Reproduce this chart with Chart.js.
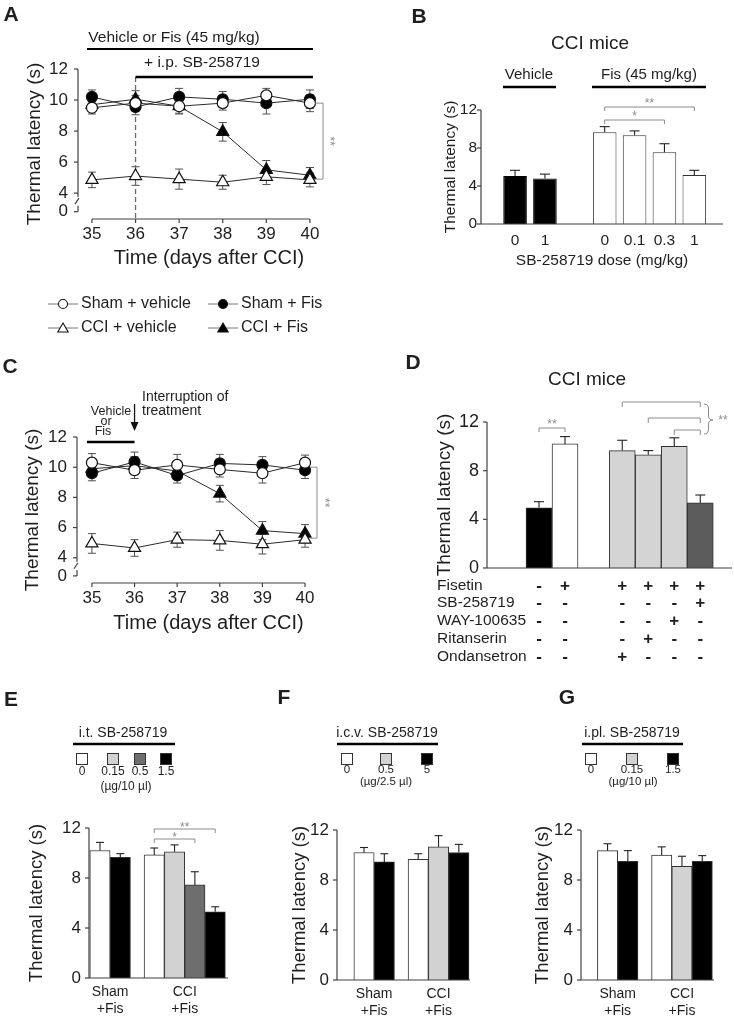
<!DOCTYPE html>
<html>
<head>
<meta charset="utf-8">
<title>Fisetin / SB-258719 - thermal latency in CCI mice</title>
<style>
  html, body { margin: 0; padding: 0; background: #fff; }
  #page { position: relative; width: 734px; height: 1017px; overflow: hidden; background: #fff; }
  #page canvas { position: absolute; }
</style>
</head>
<body>
<div id="page">
  <canvas id="chartA"></canvas>
  <canvas id="chartB"></canvas>
  <canvas id="chartC"></canvas>
  <canvas id="chartD"></canvas>
  <canvas id="chartE"></canvas>
  <canvas id="chartF"></canvas>
  <canvas id="chartG"></canvas>
</div>
<script src="https://cdn.jsdelivr.net/npm/chart.js"></script>
<script>
// ---- values: thermal latency (s), error = SEM ----
const DAYS = [35, 36, 37, 38, 39, 40];
const GROUPS = ['Sham + vehicle', 'Sham + Fis', 'CCI + vehicle', 'CCI + Fis'];

// A: i.p. SB-258719 added from day 36
const A_SHAM_VEH = [9.5, 9.8, 9.6, 9.8, 10.3, 9.8];
const A_SHAM_FIS = [10.2, 9.55, 10.2, 10.05, 9.8, 10.05];
const A_CCI_VEH  = [4.85, 5.1, 4.9, 4.7, 5.05, 4.85];
const A_CCI_FIS  = [9.7, 10.05, 9.6, 7.95, 5.5, 5.15];
const A_SHAM_VEH_ERR = [0.4, 0.5, 0.45, 0.45, 0.45, 0.55];
const A_SHAM_FIS_ERR = [0.45, 0.5, 0.55, 0.5, 0.7, 0.6];
const A_CCI_VEH_ERR  = [0.5, 0.6, 0.65, 0.45, 0.5, 0.45];
const A_CCI_FIS_ERR  = [0.45, 0.55, 0.5, 0.6, 0.6, 0.5];

// C: treatment interrupted after day 36
const C_SHAM_VEH = [10.3, 9.8, 10.15, 9.85, 9.6, 10.3];
const C_SHAM_FIS = [9.6, 10.35, 9.45, 10.25, 10.15, 9.8];
const C_CCI_VEH  = [4.95, 4.65, 5.2, 5.15, 4.9, 5.2];
const C_CCI_FIS  = [9.9, 10.1, 9.75, 8.25, 5.8, 5.6];
const C_SHAM_VEH_ERR = [0.6, 0.55, 0.7, 0.5, 0.65, 0.5];
const C_SHAM_FIS_ERR = [0.5, 0.65, 0.5, 0.6, 0.55, 0.55];
const C_CCI_VEH_ERR  = [0.65, 0.55, 0.5, 0.65, 0.65, 0.5];
const C_CCI_FIS_ERR  = [0.5, 0.6, 0.55, 0.55, 0.6, 0.6];

// B: CCI mice, SB-258719 dose (mg/kg)
const B_DOSE_LABELS = ['0', '1', '0', '0.1', '0.3', '1'];
const B_VEHICLE = [5.05, 4.8];
const B_VEHICLE_ERR = [0.6, 0.45];
const B_FIS = [9.65, 9.35, 7.55, 5.15];
const B_FIS_ERR = [0.6, 0.45, 0.9, 0.5];

// D: CCI mice, 5-HT receptor antagonists
const D_ROWS = ['Fisetin', 'SB-258719', 'WAY-100635', 'Ritanserin', 'Ondansetron'];
const D_VALUES = [4.95, 10.2, 9.65, 9.3, 10.0, 5.35];
const D_ERR = [0.5, 0.6, 0.85, 0.35, 0.7, 0.65];
const D_SIGNS = [
  ['-', '+', '+', '+', '+', '+'],
  ['-', '-', '-', '-', '-', '+'],
  ['-', '-', '-', '-', '+', '-'],
  ['-', '-', '-', '+', '-', '-'],
  ['-', '-', '+', '-', '-', '-'],
];

// E: i.t. SB-258719 (ug/10 ul)
const E_DOSES = ['0', '0.15', '0.5', '1.5'];
const E_SHAM = [10.2, 9.65];
const E_SHAM_ERR = [0.65, 0.3];
const E_SHAM_DOSE = [0, 3];
const E_CCI = [9.85, 10.1, 7.45, 5.3];
const E_CCI_ERR = [0.55, 0.55, 1.05, 0.4];
const E_CCI_DOSE = [0, 1, 2, 3];

// F: i.c.v. SB-258719 (ug/2.5 ul)
const F_DOSES = ['0', '0.5', '5'];
const F_SHAM = [10.2, 9.45];
const F_SHAM_ERR = [0.4, 0.65];
const F_SHAM_DOSE = [0, 2];
const F_CCI = [9.65, 10.65, 10.2];
const F_CCI_ERR = [0.45, 0.9, 0.65];
const F_CCI_DOSE = [0, 1, 2];

// G: i.pl. SB-258719 (ug/10 ul)
const G_DOSES = ['0', '0.15', '1.5'];
const G_SHAM = [10.35, 9.5];
const G_SHAM_ERR = [0.55, 0.85];
const G_SHAM_DOSE = [0, 2];
const G_CCI = [10.0, 9.1, 9.5];
const G_CCI_ERR = [0.65, 0.8, 0.45];
const G_CCI_DOSE = [0, 1, 2];

const GROUP_LABELS = [['Sham', '+Fis'], ['CCI', '+Fis']];

// ---- look ----
const FONT = '"Liberation Sans", Arial, Helvetica, sans-serif';
const INK = '#1e1e1e';
const AXIS = '#404040';
const SIG = '#8c8c8c';
Chart.defaults.font.family = FONT;
Chart.defaults.color = INK;

const POINT_STYLES = [
  { pointStyle: 'circle', radius: 5.5, fill: '#ffffff' },
  { pointStyle: 'circle', radius: 5.5, fill: '#000000' },
  { pointStyle: 'triangle', radius: 7, fill: '#ffffff' },
  { pointStyle: 'triangle', radius: 7, fill: '#000000' },
];
const E_COLORS = ['#ffffff', '#d2d2d2', '#6e6e6e', '#000000'];
const FG_COLORS = ['#ffffff', '#d2d2d2', '#000000'];
const D_COLORS = ['#000000', '#ffffff', '#d4d4d4', '#d4d4d4', '#d4d4d4', '#5c5c5c'];

// broken y axis: "0" sits just under the 4..12 range
const Y_LOW = 2.33, Y_ZERO = 2.8;

// canvas boxes and plot rectangles, page pixels
const GEO_A = { cx: 0, cy: 0, cw: 360, ch: 340, left: 78, top: 69, right: 340, bottom: 219, xBottom: 274, titleX: 35, titleSize: 19 };
const GEO_B = { cx: 370, cy: 0, cw: 364, ch: 280, left: 481, top: 110, right: 723, bottom: 224, xBottom: 274, titleX: 451, titleSize: 15.5 };
const GEO_C = { cx: 0, cy: 340, cw: 360, ch: 300, left: 77, top: 437, right: 340, bottom: 583, xBottom: 639, titleX: 33, titleSize: 19 };
const GEO_D = { cx: 370, cy: 340, cw: 364, ch: 340, left: 487, top: 422, right: 732, bottom: 568, xBottom: 568, titleX: 445, titleSize: 19 };
const GEO_E = { cx: 0, cy: 680, cw: 250, ch: 337, left: 89, top: 828, right: 228, bottom: 978, xBottom: 1017, titleX: 37, titleSize: 18.5 };
const GEO_F = { cx: 250, cy: 680, cw: 240, ch: 337, left: 337, top: 830, right: 470, bottom: 980, xBottom: 1017, titleX: 300, titleSize: 18.5 };
const GEO_G = { cx: 490, cy: 680, cw: 244, ch: 337, left: 581, top: 830, right: 714, bottom: 980, xBottom: 1017, titleX: 543, titleSize: 18.5 };

// bar slots: each group starts at its own offset, bars inside a group are one unit apart
function groupX(counts, starts) {
  const xs = [];
  counts.forEach((n, g) => { for (let i = 0; i < n; i++) xs.push(starts[g] + i); });
  return xs;
}
const B_X = groupX([2, 4], [0, 3]);
const D_X = groupX([2, 4], [0, 3.2]);
const E_X = groupX([2, 4], [0, 2.67]);
const F_X = groupX([2, 3], [0, 2.67]);
const G_X = groupX([2, 3], [0, 2.67]);

// ---- drawing helpers ----
function seg(ctx, x1, y1, x2, y2) {
  ctx.beginPath(); ctx.moveTo(x1, y1); ctx.lineTo(x2, y2); ctx.stroke();
}
function txt(ctx, s, x, y, size, align, weight, color) {
  ctx.font = (weight || 'normal') + ' ' + size + 'px ' + FONT;
  ctx.fillStyle = color || INK;
  ctx.textAlign = align || 'center';
  ctx.textBaseline = 'middle';
  ctx.fillText(s, x, y);
}
function hBracket(ctx, x1, x2, y, drop) {
  ctx.beginPath();
  ctx.moveTo(x1, y + drop); ctx.lineTo(x1, y); ctx.lineTo(x2, y); ctx.lineTo(x2, y + drop);
  ctx.stroke();
}
function star(ctx, s, x, y) { txt(ctx, s, x, y + 3, 12, 'center', 'normal', SIG); }
function starV(ctx, s, x, y) {
  ctx.save(); ctx.translate(x, y); ctx.rotate(Math.PI / 2);
  txt(ctx, s, 0, 0, 12, 'center', 'normal', SIG);
  ctx.restore();
}
function drawMarker(ctx, style, x, y, r, fill) {
  ctx.beginPath();
  if (style === 'circle') {
    ctx.arc(x, y, r, 0, Math.PI * 2);
  } else {
    for (let k = 0; k < 3; k++) {
      const ang = k * 2 * Math.PI / 3;
      const px = x + Math.sin(ang) * r, py = y - Math.cos(ang) * r;
      if (k) ctx.lineTo(px, py); else ctx.moveTo(px, py);
    }
    ctx.closePath();
  }
  ctx.fillStyle = fill; ctx.fill(); ctx.stroke();
}

function place(id, g) {
  const c = document.getElementById(id);
  c.width = g.cw; c.height = g.ch;
  c.style.left = g.cx + 'px'; c.style.top = g.cy + 'px';
  return c;
}
function frame(g) {
  return {
    padding: { left: 0, top: g.top - g.cy, right: g.cx + g.cw - g.right, bottom: g.cy + g.ch - g.xBottom },
    yWidth: g.left - g.cx,
    xHeight: g.xBottom - g.bottom,
    titlePad: g.titleX - g.cx - g.titleSize * 0.6,
  };
}

// ---- shared plugins ----
const brokenAxes = {
  id: 'brokenAxes',
  beforeDatasetsDraw(chart) {
    const { ctx, chartArea: a, scales: { x, y } } = chart;
    const L = a.left;
    const y12 = y.getPixelForValue(12), y4 = y.getPixelForValue(4), y0 = y.getPixelForValue(Y_ZERO);
    ctx.save(); ctx.strokeStyle = AXIS; ctx.lineWidth = 1.2;
    seg(ctx, L, y12, L, y4 + 4);
    seg(ctx, L - 3, y4 + 11, L + 1, y4 + 5);
    seg(ctx, L, y0 - 6, L, y0);
    y.ticks.forEach(t => { const p = y.getPixelForValue(t.value); seg(ctx, L - 4, p, L, p); });
    const b = a.bottom;
    seg(ctx, x.getPixelForValue(DAYS[0]), b, x.getPixelForValue(DAYS[DAYS.length - 1]), b);
    DAYS.forEach(d => { const p = x.getPixelForValue(d); seg(ctx, p, b, p, b + 4); });
    ctx.restore();
  },
};

const lineErrors = {
  id: 'lineErrors',
  beforeDatasetsDraw(chart) {
    const { ctx, scales: { y } } = chart;
    ctx.save(); ctx.strokeStyle = '#505050'; ctx.lineWidth = 1;
    chart.data.datasets.forEach((ds, di) => {
      chart.getDatasetMeta(di).data.forEach((pt, i) => {
        const hi = y.getPixelForValue(ds.data[i].y + ds.errors[i]);
        const lo = y.getPixelForValue(ds.data[i].y - ds.errors[i]);
        seg(ctx, pt.x, hi, pt.x, lo);
        seg(ctx, pt.x - 4, hi, pt.x + 4, hi);
        seg(ctx, pt.x - 4, lo, pt.x + 4, lo);
      });
    });
    ctx.restore();
  },
};

const barAxes = {
  id: 'barAxes',
  afterDatasetsDraw(chart) {
    const { ctx, chartArea: a, scales: { y } } = chart;
    const y0 = y.getPixelForValue(0), yTop = y.getPixelForValue(12);
    ctx.save(); ctx.strokeStyle = AXIS; ctx.lineWidth = 1.2;
    seg(ctx, a.left, yTop, a.left, y0);
    seg(ctx, a.left, y0, a.right, y0);
    y.ticks.forEach(t => { const p = y.getPixelForValue(t.value); seg(ctx, a.left - 4, p, a.left, p); });
    ctx.restore();
  },
};

const barErrors = {
  id: 'barErrors',
  afterDatasetsDraw(chart) {
    const { ctx, scales: { y } } = chart;
    ctx.save(); ctx.strokeStyle = '#222'; ctx.lineWidth = 1.1;
    chart.data.datasets.forEach((ds, di) => {
      if (!ds.errors) return;
      chart.getDatasetMeta(di).data.forEach((bar, i) => {
        const e = y.getPixelForValue(ds.data[i].y + ds.errors[i]);
        seg(ctx, bar.x, bar.y, bar.x, e);
        seg(ctx, bar.x - ds.capHalf, e, bar.x + ds.capHalf, e);
      });
    });
    ctx.restore();
  },
};

// ---- chart builders ----
function lineChart(id, g, series, errors, xMin, xMax, deco) {
  const f = frame(g);
  return new Chart(place(id, g), {
    type: 'line',
    data: {
      datasets: series.map((vals, k) => ({
        label: GROUPS[k],
        data: DAYS.map((d, i) => ({ x: d, y: vals[i] })),
        errors: errors[k],
        borderColor: '#2a2a2a', borderWidth: 1,
        pointStyle: POINT_STYLES[k].pointStyle, pointRadius: POINT_STYLES[k].radius,
        pointBackgroundColor: POINT_STYLES[k].fill, pointBorderColor: '#111', pointBorderWidth: 1.2,
        tension: 0, fill: false,
      })),
    },
    options: {
      responsive: false, animation: false, events: [],
      layout: { padding: f.padding },
      plugins: { legend: { display: false }, tooltip: { enabled: false } },
      scales: {
        x: {
          type: 'linear', min: xMin, max: xMax, offset: false,
          grid: { display: false, drawTicks: false }, border: { display: false },
          afterBuildTicks: s => { s.ticks = DAYS.map(v => ({ value: v })); },
          afterFit: s => { s.height = f.xHeight; },
          ticks: { font: { size: 17 }, padding: 5, color: INK, autoSkip: false, maxRotation: 0 },
          title: { display: true, text: 'Time (days after CCI)', font: { size: 20 }, padding: { top: 0, bottom: 4 }, color: INK },
        },
        y: {
          type: 'linear', min: Y_LOW, max: 12,
          grid: { display: false, drawTicks: false }, border: { display: false },
          afterBuildTicks: s => { s.ticks = [Y_ZERO, 4, 6, 8, 10, 12].map(v => ({ value: v })); },
          afterFit: s => { s.width = f.yWidth; },
          ticks: { font: { size: 17 }, padding: 10, color: INK, callback: v => (v === Y_ZERO ? '0' : String(v)) },
          title: { display: true, text: 'Thermal latency (s)', font: { size: g.titleSize }, padding: { top: f.titlePad, bottom: 0 }, color: INK },
        },
      },
    },
    plugins: [brokenAxes, lineErrors, deco],
  });
}

function barChart(id, g, o) {
  const f = frame(g);
  return new Chart(place(id, g), {
    type: 'bar',
    data: {
      datasets: [{
        data: o.x.map((x, i) => ({ x, y: o.values[i] })),
        errors: o.errors, capHalf: o.cap,
        backgroundColor: o.colors, borderColor: o.borders, borderWidth: 1,
        barPercentage: o.barPct, categoryPercentage: 1,
      }],
    },
    options: {
      responsive: false, animation: false, events: [],
      layout: { padding: f.padding },
      plugins: { legend: { display: false }, tooltip: { enabled: false } },
      scales: {
        x: {
          type: 'linear', min: o.xMin, max: o.xMax, offset: false,
          grid: { display: false, drawTicks: false }, border: { display: false },
          afterBuildTicks: s => { s.ticks = o.ticks.map(v => ({ value: v })); },
          afterFit: s => { s.height = f.xHeight; },
          ticks: {
            display: !!o.tickLabels, font: { size: o.xFont || 14 }, padding: o.xPad || 6, color: INK,
            autoSkip: false, maxRotation: 0, callback: (v, i) => (o.tickLabels ? o.tickLabels[i] : ''),
          },
          title: o.xTitle
            ? { display: true, text: o.xTitle, font: { size: 15.5 }, padding: { top: 0, bottom: 4 }, color: INK }
            : { display: false },
        },
        y: {
          type: 'linear', min: 0, max: 12,
          grid: { display: false, drawTicks: false }, border: { display: false },
          afterBuildTicks: s => { s.ticks = [0, 4, 8, 12].map(v => ({ value: v })); },
          afterFit: s => { s.width = f.yWidth; },
          ticks: { font: { size: o.yFont }, padding: o.yPad, color: INK },
          title: { display: true, text: 'Thermal latency (s)', font: { size: g.titleSize }, padding: { top: f.titlePad, bottom: 0 }, color: INK },
        },
      },
    },
    plugins: [barErrors, barAxes, o.deco],
  });
}

// ---- panel decorations ----
const decoA = {
  id: 'decoA',
  beforeDatasetsDraw(chart) {
    const { ctx, chartArea: a, scales: { x } } = chart;
    const x36 = x.getPixelForValue(36);
    ctx.save(); ctx.strokeStyle = '#6a6a6a'; ctx.lineWidth = 1.3; ctx.setLineDash([5, 3]);
    seg(ctx, x36, 77, x36, a.bottom);
    ctx.restore();
  },
  afterDraw(chart) {
    const { ctx, scales: { x, y } } = chart;
    const x35 = x.getPixelForValue(35), x36 = x.getPixelForValue(36), x40 = x.getPixelForValue(40);
    ctx.save();
    txt(ctx, 'A', 11, 15, 21, 'center', 'bold');
    txt(ctx, 'Vehicle or Fis (45 mg/kg)', 174, 38, 15.5);
    ctx.strokeStyle = '#000'; ctx.lineWidth = 2;
    seg(ctx, x35 - 5, 49, x40 + 3, 49);
    txt(ctx, '+ i.p. SB-258719', 202, 63, 15.5);
    ctx.lineWidth = 2.5;
    seg(ctx, x36, 77, x40 + 3, 77);
    // significance CCI + Fis vs sham at day 40
    ctx.strokeStyle = SIG; ctx.lineWidth = 1;
    const bx = 323, t = y.getPixelForValue(9.8), b = y.getPixelForValue(4.9);
    ctx.beginPath(); ctx.moveTo(bx - 8, t); ctx.lineTo(bx, t); ctx.lineTo(bx, b); ctx.lineTo(bx - 8, b); ctx.stroke();
    starV(ctx, '**', 329, (t + b) / 2);
    // shared legend for A and C
    GROUPS.forEach((name, k) => {
      const col = k % 2, row = Math.floor(k / 2);
      const x0 = [48, 208][col], yy = [304, 328][row];
      ctx.strokeStyle = '#777'; ctx.lineWidth = 1;
      seg(ctx, x0, yy, x0 + 30, yy);
      ctx.strokeStyle = '#111'; ctx.lineWidth = 1.1;
      const ps = POINT_STYLES[k];
      drawMarker(ctx, ps.pointStyle, x0 + 15, yy + (ps.pointStyle === 'triangle' ? 1 : 0), ps.pointStyle === 'circle' ? 4.5 : 6, ps.fill);
      txt(ctx, name, x0 + 33, yy, 16, 'left');
    });
    ctx.restore();
  },
};

const decoC = {
  id: 'decoC',
  afterDraw(chart) {
    const { ctx, scales: { x, y } } = chart;
    const g = GEO_C;
    const X = v => x.getPixelForValue(v) + g.cx, Y = v => y.getPixelForValue(v) + g.cy;
    ctx.save(); ctx.translate(-g.cx, -g.cy);
    txt(ctx, 'C', 10, 367, 21, 'center', 'bold');
    txt(ctx, 'Interruption of', 142, 397, 14, 'left');
    txt(ctx, 'treatment', 142, 411, 14, 'left');
    const xa = X(36);
    ctx.strokeStyle = '#111'; ctx.fillStyle = '#111'; ctx.lineWidth = 1.3;
    seg(ctx, xa, 404, xa, 424);
    ctx.beginPath(); ctx.moveTo(xa - 4, 422); ctx.lineTo(xa + 4, 422); ctx.lineTo(xa, 431); ctx.closePath(); ctx.fill();
    txt(ctx, 'Vehicle', 111, 412, 12.5);
    txt(ctx, 'or', 106, 422, 12.5);
    txt(ctx, 'Fis', 103, 432, 12.5);
    ctx.strokeStyle = '#000'; ctx.lineWidth = 2.5;
    seg(ctx, X(35) - 5, 442, xa, 442);
    ctx.strokeStyle = SIG; ctx.lineWidth = 1;
    const bx = 317, t = Y(10.0), b = Y(5.3);
    ctx.beginPath(); ctx.moveTo(bx - 7, t); ctx.lineTo(bx, t); ctx.lineTo(bx, b); ctx.lineTo(bx - 7, b); ctx.stroke();
    starV(ctx, '**', 324, (t + b) / 2);
    ctx.restore();
  },
};

const decoB = {
  id: 'decoB',
  afterDraw(chart) {
    const { ctx, scales: { x } } = chart;
    const g = GEO_B;
    const X = v => x.getPixelForValue(v) + g.cx;
    ctx.save(); ctx.translate(-g.cx, -g.cy);
    txt(ctx, 'B', 419, 17, 21, 'center', 'bold');
    txt(ctx, 'CCI mice', 590, 44, 19);
    txt(ctx, 'Vehicle', 529, 75, 15);
    txt(ctx, 'Fis (45 mg/kg)', 649, 75, 15);
    ctx.strokeStyle = '#000'; ctx.lineWidth = 2.5;
    seg(ctx, 503, 87, 556, 87);
    seg(ctx, 592, 87, 706, 87);
    ctx.strokeStyle = SIG; ctx.lineWidth = 1;
    hBracket(ctx, X(B_X[2]), X(B_X[5]), 107, 4);
    star(ctx, '**', (X(B_X[2]) + X(B_X[5])) / 2, 101);
    hBracket(ctx, X(B_X[2]), X(B_X[4]), 120, 4);
    star(ctx, '*', (X(B_X[2]) + X(B_X[4])) / 2, 114);
    ctx.restore();
  },
};

function brace(ctx, x, yTop, yBot, yTip, w) {
  const xm = x + w / 2;
  ctx.beginPath();
  ctx.moveTo(x, yTop);
  ctx.quadraticCurveTo(xm, yTop, xm, yTop + 5);
  ctx.lineTo(xm, yTip - 4);
  ctx.quadraticCurveTo(xm, yTip, x + w, yTip);
  ctx.quadraticCurveTo(xm, yTip, xm, yTip + 4);
  ctx.lineTo(xm, yBot - 5);
  ctx.quadraticCurveTo(xm, yBot, x, yBot);
  ctx.stroke();
}

const decoD = {
  id: 'decoD',
  afterDraw(chart) {
    const { ctx, scales: { x } } = chart;
    const g = GEO_D;
    const X = v => x.getPixelForValue(v) + g.cx;
    ctx.save(); ctx.translate(-g.cx, -g.cy);
    txt(ctx, 'D', 413, 363, 21, 'center', 'bold');
    txt(ctx, 'CCI mice', 587, 380, 19);
    ctx.strokeStyle = SIG; ctx.lineWidth = 1;
    hBracket(ctx, X(D_X[0]), X(D_X[1]), 428, 4);
    star(ctx, '**', (X(D_X[0]) + X(D_X[1])) / 2, 422);
    [[2, 402], [3, 418], [4, 430]].forEach(([i, yy]) => hBracket(ctx, X(D_X[i]), X(D_X[5]), yy, 5));
    brace(ctx, 704, 404, 434, 420, 9);
    star(ctx, '**', 723, 418);
    D_ROWS.forEach((name, r) => {
      const yy = [586, 603, 621, 639, 657][r];
      txt(ctx, name, 437, yy, 15.5, 'left');
      D_SIGNS[r].forEach((s, j) => txt(ctx, s, X(D_X[j]), yy, 17, 'center', 'bold'));
    });
    ctx.restore();
  },
};

function doseDeco(g, spec, xs) {
  return {
    id: 'deco' + spec.letter,
    afterDraw(chart) {
      const { ctx, scales: { x } } = chart;
      const X = v => x.getPixelForValue(v) + g.cx;
      ctx.save(); ctx.translate(-g.cx, -g.cy);
      txt(ctx, spec.letter, spec.letterAt[0], spec.letterAt[1], 21, 'center', 'bold');
      txt(ctx, spec.header, spec.headerAt[0], 733, 14);
      ctx.strokeStyle = '#000'; ctx.lineWidth = 2.5;
      seg(ctx, spec.rule[0], 744, spec.rule[1], 744);
      spec.swatchX.forEach((sx, i) => {
        ctx.fillStyle = spec.colors[i]; ctx.fillRect(sx - 6, 753, 12, 12);
        ctx.strokeStyle = '#333'; ctx.lineWidth = 1; ctx.strokeRect(sx - 5.5, 753.5, 11, 11);
        txt(ctx, spec.doses[i], sx, spec.doseY, spec.small);
      });
      txt(ctx, spec.unit, spec.unitAt[0], spec.unitAt[1], spec.small);
      ctx.strokeStyle = SIG; ctx.lineWidth = 1;
      (spec.sig || []).forEach(([i, j, yy, s]) => {
        hBracket(ctx, X(xs[i]), X(xs[j]), yy, 4);
        star(ctx, s, (X(xs[i]) + X(xs[j])) / 2, yy - 4);
      });
      ctx.restore();
    },
  };
}

// ---- build panels ----
lineChart('chartA', GEO_A,
  [A_SHAM_VEH, A_SHAM_FIS, A_CCI_VEH, A_CCI_FIS],
  [A_SHAM_VEH_ERR, A_SHAM_FIS_ERR, A_CCI_VEH_ERR, A_CCI_FIS_ERR],
  34.68, 40.69, decoA);

lineChart('chartC', GEO_C,
  [C_SHAM_VEH, C_SHAM_FIS, C_CCI_VEH, C_CCI_FIS],
  [C_SHAM_VEH_ERR, C_SHAM_FIS_ERR, C_CCI_VEH_ERR, C_CCI_FIS_ERR],
  34.65, 40.82, decoC);

barChart('chartB', GEO_B, {
  x: B_X, values: B_VEHICLE.concat(B_FIS), errors: B_VEHICLE_ERR.concat(B_FIS_ERR),
  colors: B_X.map((_, i) => (i < B_VEHICLE.length ? '#000' : '#fff')),
  borders: B_X.map((_, i) => (i < B_VEHICLE.length ? '#000' : '#333')),
  barPct: 0.79, cap: 5, xMin: -1.14, xMax: 6.96,
  ticks: B_X, tickLabels: B_DOSE_LABELS, xFont: 15.5, xPad: 7,
  xTitle: 'SB-258719 dose (mg/kg)', yFont: 15.5, yPad: 4, deco: decoB,
});

barChart('chartD', GEO_D, {
  x: D_X, values: D_VALUES, errors: D_ERR,
  colors: D_COLORS, borders: D_X.map(() => '#333'),
  barPct: 1, cap: 5, xMin: -2.0, xMax: 7.42,
  ticks: D_X, tickLabels: null, yFont: 18, yPad: 8, deco: decoD,
});

function doseBars(id, g, xs, sham, shamErr, shamDose, cci, cciErr, cciDose, colors, xMin, xMax, deco) {
  const dose = shamDose.concat(cciDose);
  const shamMid = (xs[0] + xs[sham.length - 1]) / 2;
  const cciMid = (xs[sham.length] + xs[xs.length - 1]) / 2;
  barChart(id, g, {
    x: xs, values: sham.concat(cci), errors: shamErr.concat(cciErr),
    colors: dose.map(d => colors[d]), borders: dose.map(() => '#333'),
    barPct: 1, cap: 4, xMin, xMax,
    ticks: [shamMid, cciMid], tickLabels: GROUP_LABELS, xFont: 14, xPad: 6,
    yFont: 17, yPad: 8, deco,
  });
}

doseBars('chartE', GEO_E, E_X, E_SHAM, E_SHAM_ERR, E_SHAM_DOSE, E_CCI, E_CCI_ERR, E_CCI_DOSE, E_COLORS, -0.54, 6.3,
  doseDeco(GEO_E, {
    letter: 'E', letterAt: [11, 700], header: 'i.t. SB-258719', headerAt: [123], rule: [73, 175],
    swatchX: [82, 113, 140, 166], colors: E_COLORS, doses: E_DOSES, doseY: 772, small: 12,
    unit: '(\u00b5g/10 \u00b5l)', unitAt: [126, 787],
    sig: [[2, 5, 829, '**'], [2, 4, 839, '*']],
  }, E_X));

doseBars('chartF', GEO_F, F_X, F_SHAM, F_SHAM_ERR, F_SHAM_DOSE, F_CCI, F_CCI_ERR, F_CCI_DOSE, FG_COLORS, -1.33, 5.22,
  doseDeco(GEO_F, {
    letter: 'F', letterAt: [284, 698], header: 'i.c.v. SB-258719', headerAt: [387], rule: [337, 438],
    swatchX: [347, 386, 427], colors: FG_COLORS, doses: F_DOSES, doseY: 770, small: 11.5,
    unit: '(\u00b5g/2.5 \u00b5l)', unitAt: [386, 782],
  }, F_X));

doseBars('chartG', GEO_G, G_X, G_SHAM, G_SHAM_ERR, G_SHAM_DOSE, G_CCI, G_CCI_ERR, G_CCI_DOSE, FG_COLORS, -1.31, 5.25,
  doseDeco(GEO_G, {
    letter: 'G', letterAt: [567, 698], header: 'i.pl. SB-258719', headerAt: [632], rule: [582, 683],
    swatchX: [591, 632, 673], colors: FG_COLORS, doses: G_DOSES, doseY: 770, small: 11.5,
    unit: '(\u00b5g/10 \u00b5l)', unitAt: [633, 782],
  }, G_X));
</script>
</body>
</html>
